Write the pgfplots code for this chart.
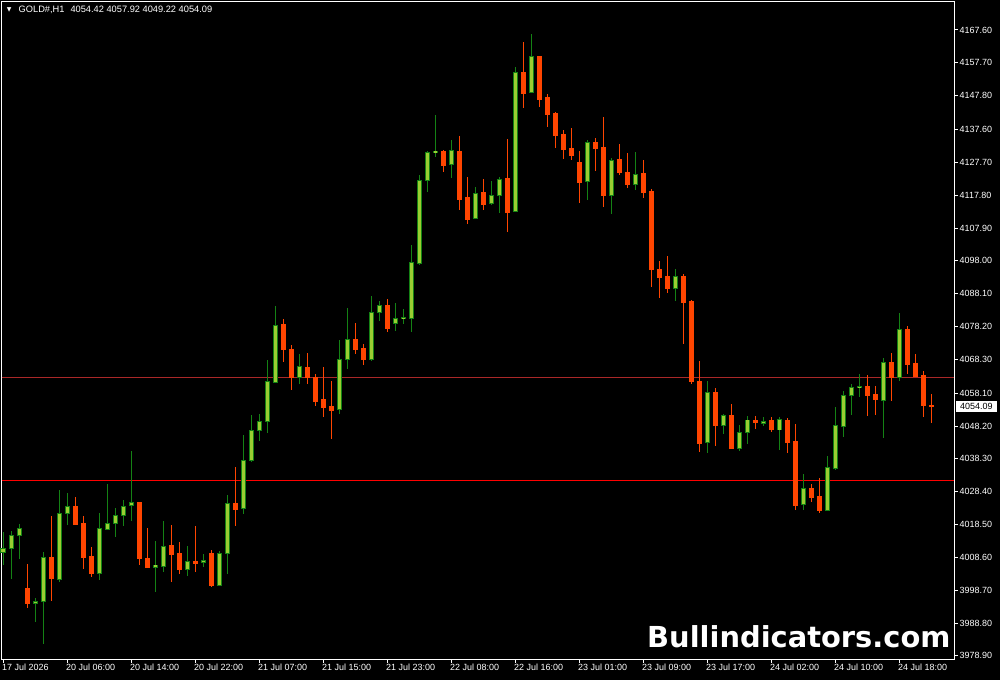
\documentclass[border=0pt]{standalone}
\usepackage{pgfplots}
\pgfplotsset{compat=1.18}
\usepackage{pgfplotstable}
\usepackage{fontspec}
\setmainfont{Liberation Sans}
\newfontfamily\dejavu{DejaVu Sans}

\definecolor{bullfill}{RGB}{154,205,50}
\definecolor{bulledge}{RGB}{20,130,20}
\definecolor{bearcol}{RGB}{255,69,0}
\definecolor{lvlhi}{RGB}{170,40,40}
\definecolor{lvllo}{RGB}{255,0,0}

% GOLD#, H1 candles: bar index, open, high, low, close
\pgfplotstableread{
i o h l c
0 4010.13 4016.16 4006.30 4011.33
1 4011.21 4016.55 4002.17 4015.25
2 4015.13 4018.66 4008.11 4017.36
4 3994.75 3996.35 3989.11 3995.35
5 3995.23 4010.22 3982.57 4008.62
7 4001.87 4028.91 4001.26 4021.97
8 4021.76 4028.01 4018.45 4024.00
12 4003.68 4021.97 4001.87 4017.45
13 4016.94 4030.72 4016.94 4018.87
14 4018.75 4023.48 4014.74 4021.28
15 4021.16 4025.90 4018.06 4024.09
16 4024.18 4040.67 4019.56 4025.20
19 4005.48 4013.53 3998.16 4006.30
20 4006.00 4019.56 4004.19 4012.03
23 4005.09 4012.03 4002.98 4007.50
25 4006.99 4009.61 4005.69 4007.80
27 4000.27 4010.52 4000.06 4009.91
28 4009.70 4027.40 4003.58 4024.99
30 4023.27 4045.49 4021.76 4037.95
31 4037.95 4051.52 4037.35 4046.91
32 4046.79 4051.82 4043.77 4049.62
33 4049.50 4068.11 4046.19 4061.68
34 4061.26 4084.39 4061.26 4078.57
37 4062.89 4069.91 4060.87 4066.20
42 4053.12 4074.14 4051.82 4068.32
43 4068.20 4083.78 4065.39 4074.35
46 4068.41 4087.40 4067.80 4082.49
47 4082.37 4085.89 4079.95 4084.60
49 4079.05 4085.29 4076.85 4080.68
50 4080.56 4083.48 4078.96 4080.98
51 4080.56 4102.78 4076.55 4097.56
52 4097.35 4123.88 4096.75 4122.28
53 4122.16 4131.12 4118.76 4130.73
54 4130.61 4141.97 4129.31 4131.12
56 4126.99 4134.43 4122.98 4131.33
59 4110.71 4120.27 4110.71 4118.37
61 4115.23 4122.07 4114.93 4117.76
62 4117.64 4123.28 4112.52 4122.68
64 4112.82 4156.44 4112.70 4154.94
66 4148.70 4166.39 4148.70 4159.76
73 4121.86 4134.43 4116.35 4133.83
76 4117.85 4129.01 4112.12 4128.41
79 4121.17 4130.82 4119.36 4124.19
84 4089.81 4095.54 4085.89 4093.43
88 4043.38 4061.77 4040.07 4058.16
90 4048.51 4051.82 4045.80 4051.52
92 4041.57 4048.51 4040.67 4046.40
93 4046.19 4051.22 4042.78 4050.02
95 4048.90 4050.92 4048.21 4049.71
97 4047.00 4050.92 4040.97 4050.02
100 4024.39 4033.73 4022.88 4029.51
103 4022.88 4039.16 4022.58 4035.84
104 4035.54 4053.93 4034.94 4048.51
105 4048.21 4058.76 4044.89 4057.55
106 4057.55 4060.87 4051.52 4059.96
107 4059.75 4063.88 4056.95 4060.27
110 4055.83 4068.71 4044.59 4067.50
112 4062.98 4082.28 4061.77 4077.45
}\bull

\pgfplotstableread{
i o h l c
3 3999.36 4006.60 3993.42 3994.63
6 4008.71 4021.07 3995.44 4002.17
9 4024.09 4026.80 4018.36 4018.66
10 4018.96 4021.07 4005.09 4008.50
11 4008.71 4011.72 4002.68 4003.68
17 4025.29 4025.40 4006.30 4008.11
18 4008.11 4017.45 4005.48 4005.69
21 4012.03 4018.36 4001.17 4009.61
22 4009.91 4013.23 4003.58 4005.09
24 4007.50 4018.06 4004.19 4006.90
26 4009.91 4010.82 3999.66 4000.27
29 4024.99 4035.84 4018.06 4022.97
35 4078.66 4080.47 4067.50 4071.12
36 4071.42 4072.63 4059.06 4062.89
38 4066.00 4070.22 4060.87 4062.89
39 4062.98 4063.88 4054.24 4055.74
40 4056.35 4066.00 4050.92 4053.72
41 4054.24 4061.77 4044.29 4053.03
44 4074.35 4079.26 4069.91 4071.42
45 4071.72 4072.93 4066.60 4068.41
48 4084.69 4086.50 4076.55 4077.75
55 4131.12 4131.42 4124.79 4126.90
57 4131.12 4135.64 4113.33 4116.35
58 4117.25 4123.28 4109.11 4110.62
60 4118.76 4122.68 4113.33 4115.14
63 4122.98 4134.74 4106.70 4112.73
65 4154.94 4163.98 4144.08 4148.61
67 4159.76 4159.90 4144.38 4146.80
68 4147.40 4148.30 4138.36 4142.27
69 4142.58 4142.88 4132.02 4135.94
70 4136.24 4137.45 4128.71 4131.72
71 4132.02 4138.05 4128.41 4129.91
72 4127.80 4131.12 4115.44 4121.77
74 4133.83 4135.04 4125.09 4132.02
75 4132.32 4141.37 4114.23 4117.85
77 4128.41 4133.23 4123.88 4124.49
78 4124.79 4130.52 4119.96 4121.17
80 4124.19 4128.41 4116.95 4118.46
81 4118.76 4119.66 4090.11 4095.24
82 4095.54 4097.95 4086.80 4093.13
83 4093.43 4099.46 4088.31 4089.81
85 4093.43 4094.03 4072.93 4085.59
86 4085.89 4086.20 4060.87 4061.77
87 4061.77 4067.80 4040.37 4043.08
89 4058.46 4059.66 4042.18 4048.51
91 4051.52 4054.84 4041.40 4041.57
94 4050.02 4051.22 4047.30 4049.41
96 4049.71 4050.92 4046.40 4047.00
98 4050.02 4050.62 4040.07 4043.38
99 4043.69 4048.81 4022.88 4024.39
101 4029.51 4030.72 4025.29 4026.80
102 4027.10 4032.53 4021.97 4022.88
108 4060.27 4063.58 4051.22 4057.55
109 4057.85 4060.27 4051.52 4056.05
111 4067.50 4070.22 4055.74 4062.98
113 4077.45 4078.36 4063.88 4066.90
114 4067.20 4069.91 4062.98 4063.28
115 4063.58 4064.79 4050.92 4054.42
116 4054.42 4057.92 4049.22 4054.09
}\bear

\begin{document}
\begin{tikzpicture}
\useasboundingbox (0,0) rectangle (1000bp,680bp);
\fill[black] (0,0) rectangle (1000bp,680bp);
\begin{axis}[
  at={(1.5bp,21bp)}, anchor=south west,
  scale only axis, width=952.5bp, height=657.5bp,
  xmin=-0.1875, xmax=118.875, ymin=3977.96, ymax=4176.19,
  clip=false,
  axis line style={white, line width=1bp},
  tick style={white, line width=1bp},
  tick align=outside, major tick length=4bp,
  xtick pos=left, ytick pos=right, yticklabel pos=right,
  xtick={0,8,...,112},
  xticklabels={17 Jul 2026, 20 Jul 06:00, 20 Jul 14:00, 20 Jul 22:00,
    21 Jul 07:00, 21 Jul 15:00, 21 Jul 23:00, 22 Jul 08:00, 22 Jul 16:00,
    23 Jul 01:00, 23 Jul 09:00, 23 Jul 17:00, 24 Jul 02:00, 24 Jul 10:00,
    24 Jul 18:00},
  ytick={3978.90,3988.80,3998.70,4008.60,4018.50,4028.40,4038.30,4048.20,
    4058.10,4068.30,4078.20,4088.10,4098.00,4107.90,4117.80,4127.70,
    4137.60,4147.80,4157.70,4167.60},
  yticklabels={3978.90,3988.80,3998.70,4008.60,4018.50,4028.40,4038.30,
    4048.20,4058.10,4068.30,4078.20,4088.10,4098.00,4107.90,4117.80,
    4127.70,4137.60,4147.80,4157.70,4167.60},
  ticklabel style={font=\fontsize{9}{10}\selectfont, text=white},
  xticklabel style={anchor=north west, inner sep=0pt, xshift=-1bp, yshift=-1bp},
  yticklabel style={anchor=west, inner sep=0pt, xshift=1.5bp},
]
% price levels
\addplot[lvlhi, line width=1bp, forget plot] coordinates {(-0.1875,4062.9) (118.875,4062.9)};
\addplot[lvllo, line width=1bp, forget plot] coordinates {(-0.1875,4031.8) (118.875,4031.8)};

% wicks
\addplot[draw=none, mark=none, forget plot,
  error bars/.cd, y dir=both, y explicit, error mark=none,
  error bar style={draw=bulledge, line width=1bp}]
  table[x=i, y expr={(\thisrow{h}+\thisrow{l})/2}, y error expr={(\thisrow{h}-\thisrow{l})/2}] {\bull};
\addplot[draw=none, mark=none, forget plot,
  error bars/.cd, y dir=both, y explicit, error mark=none,
  error bar style={draw=bearcol, line width=1bp}]
  table[x=i, y expr={(\thisrow{h}+\thisrow{l})/2}, y error expr={(\thisrow{h}-\thisrow{l})/2}] {\bear};

% bodies
\addplot[draw=none, mark=none, forget plot,
  error bars/.cd, y dir=both, y explicit, error mark=none,
  error bar style={draw=bulledge, line width=5bp}]
  table[x=i, y expr={(\thisrow{o}+\thisrow{c})/2}, y error expr={abs(\thisrow{c}-\thisrow{o})/2+0.15}] {\bull};
\addplot[draw=none, mark=none, forget plot,
  error bars/.cd, y dir=both, y explicit, error mark=none,
  error bar style={draw=bullfill, line width=3bp}]
  table[x=i, y expr={(\thisrow{o}+\thisrow{c})/2}, y error expr={max(abs(\thisrow{c}-\thisrow{o})/2-0.15,0)}] {\bull};
\addplot[draw=none, mark=none, forget plot,
  error bars/.cd, y dir=both, y explicit, error mark=none,
  error bar style={draw=bearcol, line width=5bp}]
  table[x=i, y expr={(\thisrow{o}+\thisrow{c})/2}, y error expr={abs(\thisrow{c}-\thisrow{o})/2+0.15}] {\bear};

% last price tag
\node[fill=white, text=black, anchor=west, inner xsep=4bp, inner ysep=2.3bp,
  font=\fontsize{9}{10}\selectfont, xshift=2bp] at (axis cs:118.875,4054.09) {4054.09};
\end{axis}

% symbol header
\node[anchor=center, text=white, inner sep=0pt, font=\dejavu\fontsize{6}{6}\selectfont] at (9.2bp,670bp) {▼};
\node[anchor=west, text=white, inner sep=0pt, font=\fontsize{9.3}{10}\selectfont] at (18.5bp,670bp)
  {GOLD\#,H1\hspace{6bp}4054.42 4057.92 4049.22 4054.09};

% watermark
\node[anchor=base west, text=white, inner sep=0pt, font=\dejavu\bfseries\fontsize{29}{30}\selectfont] at (647bp,33bp)
  {Bullindicators.com};
\end{tikzpicture}
\end{document}
